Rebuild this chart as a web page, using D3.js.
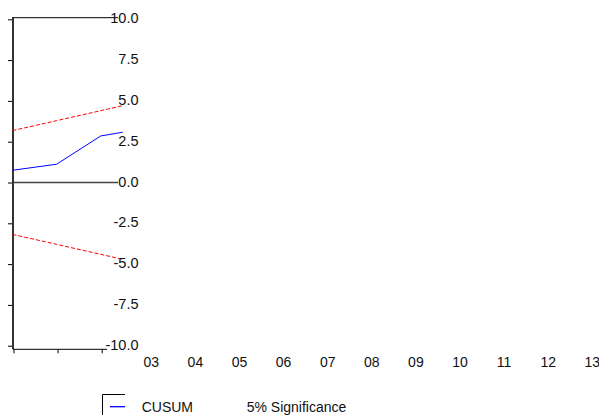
<!DOCTYPE html>
<html>
<head>
<meta charset="utf-8">
<script src="https://cdn.jsdelivr.net/npm/d3@7"></script>
<style>
  html, body { margin: 0; padding: 0; background: #fff; }
  svg { display: block; font-family: "Liberation Sans", Arial, sans-serif; }
  text { fill: #111; font-size: 14px; }
</style>
</head>
<body>
<svg id="chart" width="599" height="418"></svg>
<script>
// CUSUM recursive-residual test with 5% significance bounds
const periods   = [2000, 2001, 2002, 2002.5];
const cusum     = [0.75, 1.12, 2.85, 3.08];
const upperBand = [3.18, 3.79, 4.40, 4.71];
const lowerBand = [-3.18, -3.79, -4.40, -4.71];

const yTicks    = [-10, -7.5, -5, -2.5, 0, 2.5, 5, 7.5, 10];
const xTicks    = [2000, 2001, 2002];
const yearTicks = [2003, 2004, 2005, 2006, 2007, 2008, 2009, 2010, 2011, 2012, 2013];
const legendLabels = ["CUSUM", "5% Significance"];

const FONT = "'Liberation Sans', Arial, sans-serif";
const svg = d3.select("#chart");

const x = d3.scaleLinear().domain([2000, 2013]).range([13.5, 586.8]);
const y = d3.scaleLinear().domain([-10, 10]).range([345.7, 19.3]);

const axisX = 13;          // left axis position
const frameTop = 17.7;     // top frame rule
const frameBottom = 349.3; // bottom axis rule
const frameRight = 118;

// hyphen-minus tick text, one decimal
const fmt1 = d => d3.format(".1f")(d).replace("\u2212", "-");

// top rule
svg.append("line")
  .attr("x1", 12).attr("x2", frameRight)
  .attr("y1", frameTop).attr("y2", frameTop)
  .attr("stroke", "#000").attr("stroke-width", 1);

// zero line
svg.append("line")
  .attr("x1", axisX).attr("x2", frameRight)
  .attr("y1", y(0)).attr("y2", y(0))
  .attr("stroke", "#444").attr("stroke-width", 1.3);

// bottom rule
svg.append("line")
  .attr("x1", axisX).attr("x2", 107)
  .attr("y1", frameBottom).attr("y2", frameBottom)
  .attr("stroke", "#000").attr("stroke-width", 1);

// left tick marks
const yAxis = d3.axisLeft(y).tickValues(yTicks).tickSize(5).tickFormat("");
const gy = svg.append("g").attr("transform", `translate(${axisX},0)`).call(yAxis);
gy.select(".domain").remove();
gy.selectAll(".tick line").attr("stroke", "#000");

// left axis rule
svg.append("line")
  .attr("x1", axisX).attr("x2", axisX)
  .attr("y1", frameTop).attr("y2", frameBottom)
  .attr("stroke", "#333").attr("stroke-width", 2);

// bottom tick marks
const xAxis = d3.axisBottom(x).tickValues(xTicks).tickSize(4).tickFormat("");
const gx = svg.append("g").attr("transform", `translate(0,${frameBottom})`).call(xAxis);
gx.select(".domain").remove();
gx.selectAll(".tick line").attr("stroke", "#000");

// year labels
const yearAxis = d3.axisBottom(x).tickValues(yearTicks).tickSize(0).tickPadding(0)
  .tickFormat(d => d3.format("02d")(d % 100));
const gyr = svg.append("g").attr("transform", "translate(5,356.5)").call(yearAxis);
gyr.select(".domain").remove();
gyr.selectAll("text").attr("font-size", null).attr("fill", null).attr("dy", "0.72em")
  .style("font-size", "14px").style("font-family", FONT);

// series
const line = d3.line().x(d => x(d[0]) - 1).y(d => y(d[1]));

svg.append("path")
  .datum(periods.map((p, i) => [p, upperBand[i]]))
  .attr("d", line).attr("fill", "none")
  .attr("stroke", "#ff0000").attr("stroke-width", 1).attr("stroke-dasharray", "4,2");

svg.append("path")
  .datum(periods.map((p, i) => [p, lowerBand[i]]))
  .attr("d", line).attr("fill", "none")
  .attr("stroke", "#ff0000").attr("stroke-width", 1).attr("stroke-dasharray", "4,2");

svg.append("path")
  .datum(periods.map((p, i) => [p, cusum[i]]))
  .attr("d", line).attr("fill", "none")
  .attr("stroke", "#0000ff").attr("stroke-width", 1);

// y tick labels, right-aligned beside the plot, drawn over the series
const yLab = d3.axisLeft(y).tickValues(yTicks).tickSize(0).tickPadding(0).tickFormat(fmt1);
const gyl = svg.append("g").attr("transform", "translate(138.5,-1.5)").call(yLab);
gyl.select(".domain").remove();
gyl.selectAll("text").attr("font-size", null).attr("fill", null).attr("dy", "0.35em")
  .style("font-size", "14.5px").style("font-family", FONT);

// legend
const lg = svg.append("g");
lg.append("path").attr("d", "M102.5,415V394.5H125")
  .attr("fill", "none").attr("stroke", "#000").attr("stroke-width", 1);
lg.append("line").attr("x1", 110).attr("x2", 125).attr("y1", 406.7).attr("y2", 406.7)
  .attr("stroke", "#0000ff").attr("stroke-width", 1.3);
lg.append("text").attr("x", 141.7).attr("y", 407).attr("dy", "0.35em").text(legendLabels[0]);
lg.append("text").attr("x", 246.7).attr("y", 407).attr("dy", "0.35em").text(legendLabels[1]);
</script>
</body>
</html>
